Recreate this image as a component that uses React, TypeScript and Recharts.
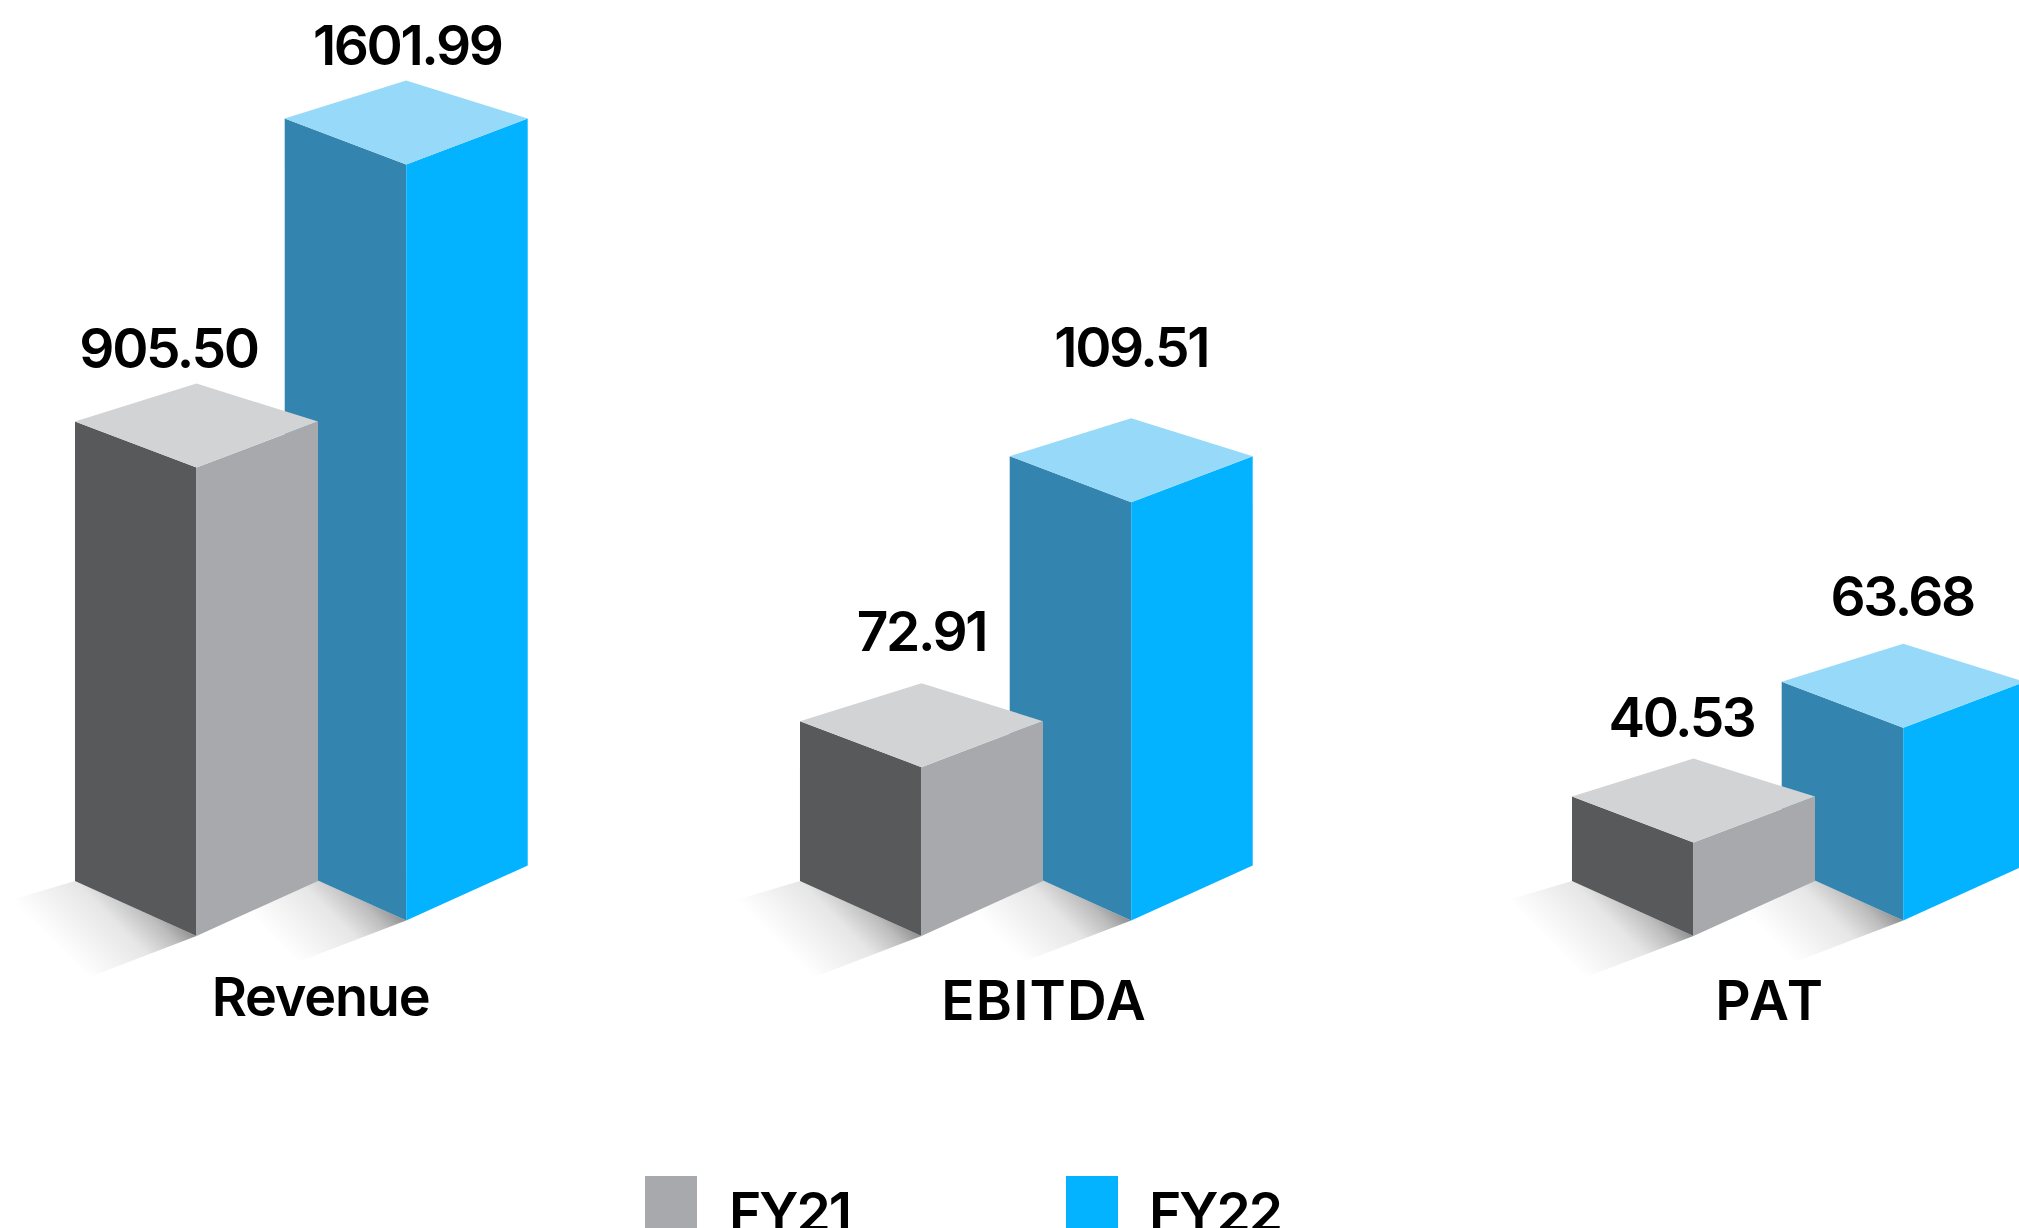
import { Bar, BarChart, LabelList, Legend, XAxis, YAxis } from "recharts"

const categories = ["Revenue", "EBITDA", "PAT"]
const fy21Values = [905.5, 72.91, 40.53]
const fy22Values = [1601.99, 109.51, 63.68]

// the columns are not drawn to scale, so their lengths are read off the picture (tallest = 100)
const fy21Heights = [61.5, 21.4, 11.3]
const fy22Heights = [100, 54.8, 24.6]

// groups are unevenly spaced in the picture, in units of one group step
const groupSlots = [0, 0.9686, 2]
const labelSlots = [0.1658, 1.1325, 2.1029]

const data = categories.map((name, i) => ({
  name,
  slot: groupSlots[i],
  fy21: fy21Values[i],
  fy22: fy22Values[i],
  fy21Height: fy21Heights[i],
  fy22Height: fy22Heights[i],
}))

const FONT = "Inter, sans-serif"
const W = 2019
const H = 1228
const COLUMN = 243

const grey = { left: "#58595b", right: "#a7a9ac", top: "#d1d3d4" }
const blue = { left: "#3385b0", right: "#04b3ff", top: "#97d9f8" }

function Block(props: any) {
  const { x, y, width, height, lift, colors, index, series } = props
  const yt = y - lift
  const yb = y + height - lift
  const cx = x + width / 2
  const r = x + width
  const id = `shade-${series}-${index}`
  return (
    <g>
      {/* floor shadow fades out toward its far left edge */}
      <linearGradient id={id} gradientUnits="userSpaceOnUse" x1={cx} y1={yb + 55} x2={cx - 76} y2={yb + 130}>
        <stop offset="0" stopColor="#8f8f8f" />
        <stop offset="0.18" stopColor="#bdbdbd" />
        <stop offset="0.45" stopColor="#e6e6e6" />
        <stop offset="1" stopColor="#ffffff" />
      </linearGradient>
      <polygon points={`${x},${yb} ${cx},${yb + 55} ${cx - 107},${yb + 96} ${x - 64},${yb + 19}`} fill={`url(#${id})`} />
      <polygon points={`${x},${yt} ${cx},${yt + 46} ${cx},${yb + 55} ${x},${yb}`} fill={colors.left} />
      <polygon points={`${cx},${yt + 46} ${r},${yt} ${r},${yb} ${cx},${yb + 55}`} fill={colors.right} />
      <polygon points={`${x},${yt} ${cx},${yt - 38} ${r},${yt} ${cx},${yt + 46}`} fill={colors.top} />
    </g>
  )
}

function ValueLabel(props: any) {
  const { value, index, lift, shifts, gaps } = props
  const box = props.viewBox ?? props
  return (
    <text
      x={box.x + box.width / 2 + shifts[index]}
      y={box.y - lift - 38 - gaps[index]}
      textAnchor="middle"
      fontFamily={FONT}
      fontSize={55}
      fontWeight={600}
      letterSpacing={-2.4}
      fill="#000"
    >
      {Number(value).toFixed(2)}
    </text>
  )
}

const tickSpacing = [-1.2, 1.2, 2.6]

function CategoryTick(props: any) {
  const { x, y, index, payload } = props
  const name = categories[index] ?? payload.value
  return (
    <text
      x={x}
      y={y + (index === 0 ? 67 : 71)}
      textAnchor="middle"
      fontFamily={FONT}
      fontSize={index === 0 ? 54 : 55}
      fontWeight={600}
      letterSpacing={tickSpacing[index]}
      fill="#000"
    >
      {name}
    </text>
  )
}

function LegendRow({ payload }: any) {
  const items = [...(payload ?? [])].sort((a: any, b: any) => String(a.value).localeCompare(String(b.value)))
  return (
    <div style={{ position: "relative", width: W, height: 90 }}>
      {items.map((item: any, i: number) => (
        <div key={item.value}>
          <div style={{ position: "absolute", left: 645 + i * 421, top: 0, width: 52, height: 52, background: item.color }} />
          <div
            style={{
              position: "absolute",
              left: 729 + i * 420,
              top: 3,
              fontFamily: FONT,
              fontSize: 55,
              fontWeight: 600,
              letterSpacing: -2,
              lineHeight: "66px",
              color: "#000",
            }}
          >
            {item.value}
          </div>
        </div>
      ))}
    </div>
  )
}

export default function App() {
  return (
    <div style={{ position: "absolute", left: 0, top: 0, width: W, height: H, overflow: "hidden", background: "#fff" }}>
      <BarChart width={W} height={H} data={data} margin={{ top: 134, right: 0, left: 0, bottom: 287 }} barSize={COLUMN}>
        <XAxis xAxisId="fy21" type="number" dataKey="slot" domain={[-0.2625, 2.4349]} hide allowDataOverflow />
        <XAxis xAxisId="fy22" type="number" dataKey="slot" domain={[-0.5427, 2.1547]} hide allowDataOverflow />
        <XAxis
          xAxisId="labels"
          type="number"
          dataKey="slot"
          domain={[-0.2625, 2.4349]}
          ticks={labelSlots}
          height={60}
          axisLine={false}
          tickLine={false}
          tick={<CategoryTick />}
          interval={0}
          allowDataOverflow
        />
        <YAxis domain={[0, 100]} hide />
        <Legend
          verticalAlign="middle"
          align="center"
          content={<LegendRow />}
          wrapperStyle={{ left: 0, top: 1176, width: W }}
        />
        {/* FY22 goes first so the FY21 column sits in front of it */}
        <Bar
          xAxisId="fy22"
          dataKey="fy22Height"
          name="FY22"
          fill={blue.right}
          isAnimationActive={false}
          shape={<Block lift={15.5} colors={blue} series="fy22" />}
        >
          <LabelList
            dataKey="fy22"
            content={<ValueLabel lift={15.5} shifts={[1, 0, -1]} gaps={[16, 51, 28]} />}
          />
        </Bar>
        <Bar
          xAxisId="fy21"
          dataKey="fy21Height"
          name="FY21"
          fill={grey.right}
          isAnimationActive={false}
          shape={<Block lift={0} colors={grey} series="fy21" />}
        >
          <LabelList
            dataKey="fy21"
            content={<ValueLabel lift={0} shifts={[-28, 0, -12]} gaps={[16, 32, 22]} />}
          />
        </Bar>
      </BarChart>
    </div>
  )
}
